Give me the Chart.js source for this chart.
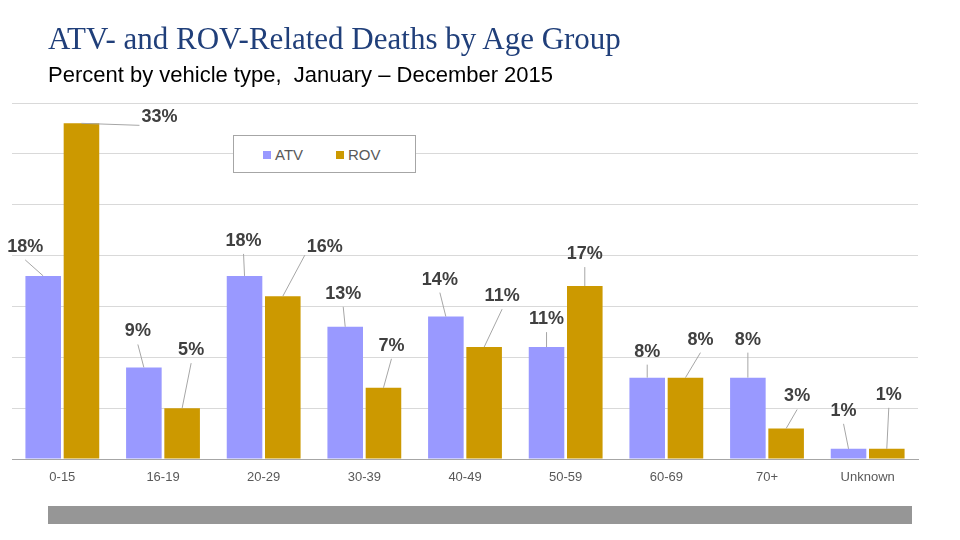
<!DOCTYPE html>
<html>
<head>
<meta charset="utf-8">
<title>ATV- and ROV-Related Deaths by Age Group</title>
<script src="https://cdn.jsdelivr.net/npm/chart.js@4.4.1/dist/chart.umd.min.js"></script>
<style>
    html, body { margin: 0; padding: 0; background: #fff; }
    #wrap { position: relative; width: 960px; height: 540px; overflow: hidden; }
    #myChart { position: absolute; left: 0; top: 0; }
    .title {
        position: absolute; left: 48px; top: 21px;
        font-family: "Liberation Serif", "DejaVu Serif", serif;
        font-size: 31px; color: #203f7a; white-space: nowrap;
    }
    .subtitle {
        position: absolute; left: 48px; top: 62px;
        font-family: "Liberation Sans", Arial, sans-serif;
        font-size: 22px; color: #000; white-space: pre;
    }
    .legend {
        position: absolute; left: 233px; top: 135px; width: 181px; height: 36px;
        border: 1px solid #a6a6a6; background: #fff;
        font-family: "Liberation Sans", Arial, sans-serif; font-size: 15px; color: #595959;
    }
    .legend span { position: absolute; top: 10px; }
    .legend i { display: inline-block; width: 8px; height: 8px; margin-right: 4px; vertical-align: 1px; }
    .bottombar { position: absolute; left: 48px; top: 506px; width: 864px; height: 18px; background: #969696; }
</style>
</head>
<body>
<div id="wrap">
    <canvas id="myChart" width="960" height="540"></canvas>
    <div class="title">ATV- and ROV-Related Deaths by Age Group</div>
    <div class="subtitle">Percent by vehicle type,  January – December 2015</div>
    <div class="legend">
        <span style="left:29px"><i style="background:#9999ff"></i>ATV</span>
        <span style="left:102px"><i style="background:#cc9900"></i>ROV</span>
    </div>
    <div class="bottombar"></div>
</div>

<script>
    const ageGroups = ['0-15', '16-19', '20-29', '30-39', '40-49', '50-59', '60-69', '70+', 'Unknown'];
    const atvPercent = [18, 9, 18, 13, 14, 11, 8, 8, 1];
    const rovPercent = [33, 5, 16, 7, 11, 17, 8, 3, 1];

    // where each value label sits, relative to the top of its bar (leader lines like the original)
    const atvLabelShift = [[-18, -29], [-6, -36], [-1, -35], [-2, -33], [-6, -37], [0, -28], [0, -26], [0, -38], [-5, -38]];
    const rovLabelShift = [[78, -6], [9, -58], [42, -49], [8, -42], [18, -51], [0, -32], [15, -38], [11, -32], [2, -54]];

    const leaderLabels = {
        id: 'leaderLabels',
        afterDatasetsDraw(chart) {
            const ctx = chart.ctx;
            const shifts = [atvLabelShift, rovLabelShift];
            ctx.save();
            ctx.font = 'bold 18px "Liberation Sans", Arial, sans-serif';
            ctx.textAlign = 'center';
            ctx.textBaseline = 'middle';
            chart.data.datasets.forEach(function (ds, i) {
                chart.getDatasetMeta(i).data.forEach(function (bar, j) {
                    const dx = shifts[i][j][0];
                    const dy = shifts[i][j][1];
                    const text = ds.data[j] + '%';
                    const lx = bar.x + dx;
                    const ly = bar.y + dy;
                    const half = ctx.measureText(text).width / 2;
                    // leader line from bar top to label
                    let ex, ey;
                    if (Math.abs(dx) > half + 4) {
                        ex = lx - Math.sign(dx) * (half + 2);
                        ey = ly + 8;
                    } else {
                        ex = lx;
                        ey = ly + 13;
                    }
                    if (bar.y - ey > 6 || Math.abs(dx) > half) {
                        ctx.strokeStyle = '#a6a6a6';
                        ctx.lineWidth = 1;
                        ctx.beginPath();
                        ctx.moveTo(bar.x, bar.y);
                        ctx.lineTo(ex, ey);
                        ctx.stroke();
                    }
                    ctx.fillStyle = '#404040';
                    ctx.fillText(text, lx, ly);
                });
            });
            ctx.restore();
        }
    };

    const ctx = document.getElementById('myChart');
    const myChart = new Chart(ctx, {
        type: 'bar',
        data: {
            labels: ageGroups,
            datasets: [{
                label: 'ATV',
                data: atvPercent,
                backgroundColor: '#9999ff',
                barPercentage: 0.93,
                categoryPercentage: 0.76
            }, {
                label: 'ROV',
                data: rovPercent,
                backgroundColor: '#cc9900',
                barPercentage: 0.93,
                categoryPercentage: 0.76
            }]
        },
        options: {
            responsive: false,
            animation: false,
            layout: { padding: { left: 12, right: 42, top: 103, bottom: 0 } },
            plugins: {
                legend: { display: false },
                tooltip: { enabled: false }
            },
            scales: {
                x: {
                    grid: { display: false },
                    border: { color: '#a6a6a6' },
                    ticks: {
                        color: '#595959',
                        padding: 3,
                        font: { family: '"Liberation Sans", Arial, sans-serif', size: 13 }
                    },
                    afterFit: function (scale) { scale.height = 81; }
                },
                y: {
                    min: 0,
                    max: 35,
                    ticks: { stepSize: 5, display: false },
                    border: { display: false },
                    grid: { color: '#d9d9d9', drawTicks: false },
                    afterFit: function (scale) { scale.width = 0; }
                }
            }
        },
        plugins: [leaderLabels]
    });
</script>
</body>
</html>
